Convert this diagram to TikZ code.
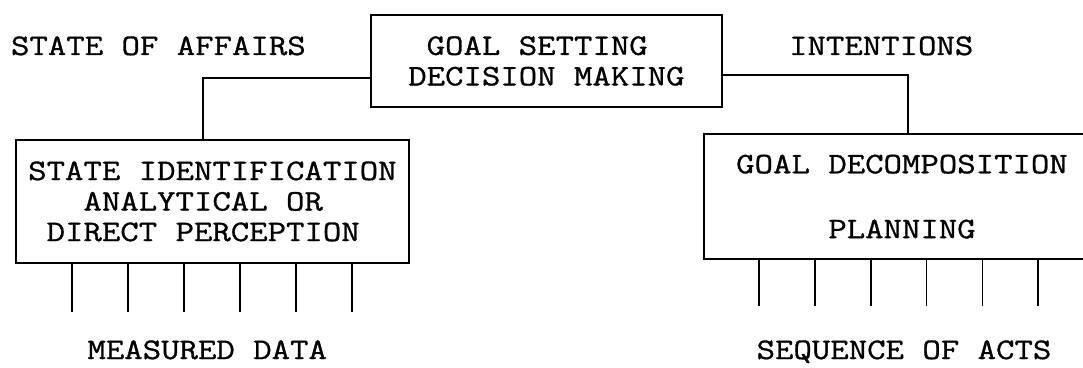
\documentclass[tikz,border=0pt]{standalone}
\usepackage{fontspec}
\setmonofont{Latin Modern Mono}[FakeStretch=1.2,FakeBold=1]
\usetikzlibrary{positioning}

\begin{document}
\begin{tikzpicture}[
    line width=1.1pt,
    every node/.style={font=\ttfamily\fontsize{21.2}{21.7}\selectfont},
    box/.style={rectangle, draw, align=left, inner sep=0pt},
    tag/.style={inner sep=0pt, anchor=base}
]
  \useasboundingbox (0,0) rectangle (27.075,9.175);

  \node[box, minimum width=8.775cm, minimum height=2.3cm] (goal) at (13.66,7.65)
    {\phantom{X}GOAL SETTING\\DECISION MAKING};
  \node[box, minimum width=9.825cm, minimum height=3.075cm] (ident) at (5.31,4.14)
    {STATE IDENTIFICATION\\\phantom{XXX}ANALYTICAL OR\\\phantom{X}DIRECT PERCEPTION};
  \node[box, minimum width=9.9cm, minimum height=3.125cm] (plan) at (22.55,4.26)
    {GOAL DECOMPOSITION\\[0.86cm]\phantom{XXXXX}PLANNING};

  \node[tag] (affairs) at (3.96,7.8) {STATE OF AFFAIRS};
  \node[tag] (intent) at (22.03,7.8) {INTENTIONS};
  \node[tag] (measured) at (5.18,0.2) {MEASURED DATA};
  \node[tag] (acts) at (22.6,0.2) {SEQUENCE OF ACTS};

  \draw ([yshift=-0.425cm]goal.west) -| ([xshift=-0.24cm]ident.north);
  \draw ([yshift=-0.35cm]goal.east) -| ([xshift=0.15cm]plan.north);

  % data lines in, acts out
  \foreach \i in {0,...,5} {
    \draw ([xshift=1.425cm+\i*1.4cm]ident.south west) -- ++(0,-1.2);
    \draw ([xshift=1.4cm+\i*1.395cm]plan.south west) -- ++(0,-1.15);
  }
\end{tikzpicture}
\end{document}
